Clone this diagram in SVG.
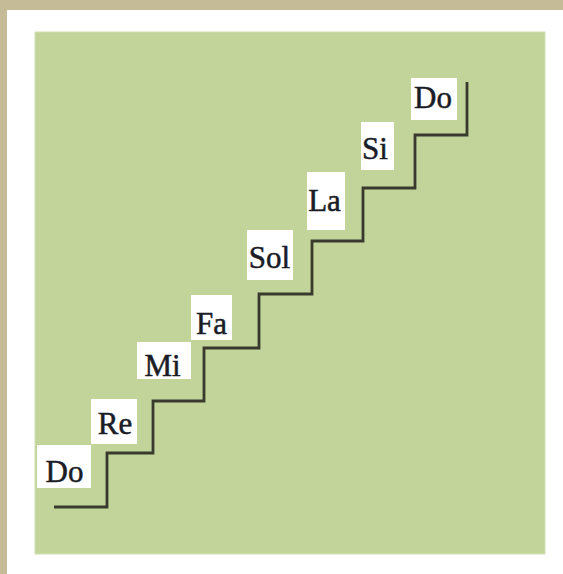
<svg xmlns="http://www.w3.org/2000/svg" width="563" height="574" viewBox="0 0 563 574">
<style>
.box{fill:#ffffff}
.lbl{font-family:"Liberation Serif","Times New Roman",serif;font-size:31px;fill:#1a1c26;stroke:#1a1c26;stroke-width:0.5;text-anchor:middle}
.stair{fill:none;stroke:#383a2e;stroke-width:2.8;stroke-linejoin:miter}
</style>
<rect x="0" y="0" width="563" height="574" fill="#ffffff"/>
<rect x="0" y="0" width="563" height="10" fill="#c5bc97"/>
<rect x="0" y="0" width="7" height="574" fill="#c5bc97"/>
<rect x="35" y="32" width="510" height="522" fill="#c3d49b" stroke="#d2e0b4" stroke-width="1"/>
<g id="connectors">
<path class="stair" d="M54,507 H107 V453 H153 V401 H204 V348 H259 V294 H312 V241 H363 V188 H415 V135 H467 V82"/>
</g>
<g id="do1"><rect class="box" x="37" y="445" width="54" height="43"/><text class="lbl" x="64.5" y="482">Do</text></g>
<g id="re"><rect class="box" x="91" y="399" width="46" height="45"/><text class="lbl" x="115" y="434">Re</text></g>
<g id="mi"><rect class="box" x="137" y="342" width="54" height="37"/><text class="lbl" x="162.5" y="376">Mi</text></g>
<g id="fa"><rect class="box" x="191" y="295" width="41" height="45"/><text class="lbl" x="211.5" y="334">Fa</text></g>
<g id="sol"><rect class="box" x="247" y="230" width="46" height="50"/><text class="lbl" x="269.5" y="268">Sol</text></g>
<g id="la"><rect class="box" x="307" y="172" width="38" height="58"/><text class="lbl" x="324.5" y="211">La</text></g>
<g id="si"><rect class="box" x="361" y="122" width="33" height="48"/><text class="lbl" x="375" y="159">Si</text></g>
<g id="do2"><rect class="box" x="411" y="78" width="46" height="42"/><text class="lbl" x="433" y="108">Do</text></g>
</svg>
